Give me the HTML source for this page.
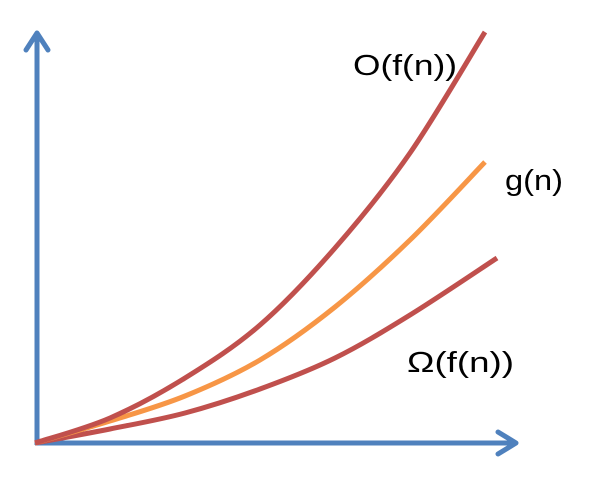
<!DOCTYPE html>
<html><head><meta charset="utf-8"><style>
html,body{margin:0;padding:0;background:#fff;}
svg{display:block;}
text{font-family:"Liberation Sans",sans-serif;font-size:29px;fill:#000;}
</style></head><body>
<svg width="589" height="484" viewBox="0 0 589 484" id="chart">
<g id="axes">
<line x1="37" y1="445" x2="37" y2="34" stroke="#4f81bd" stroke-width="5"/>
<polyline points="26,50 37,33 48,50" fill="none" stroke="#4f81bd" stroke-width="5" stroke-linecap="round" stroke-linejoin="round"/>
<line x1="35" y1="443" x2="515" y2="443" stroke="#4f81bd" stroke-width="5"/>
<polyline points="498,432 516,443 498,454" fill="none" stroke="#4f81bd" stroke-width="5" stroke-linecap="round" stroke-linejoin="round"/>
</g>
<g id="curves"></g>
<text x="353" y="75" textLength="104" lengthAdjust="spacingAndGlyphs">O(f(n))</text>
<text x="505" y="190" textLength="58" lengthAdjust="spacingAndGlyphs">g(n)</text>
<text x="407" y="372" textLength="107" lengthAdjust="spacingAndGlyphs">Ω(f(n))</text>
</svg>
<script>
const nValues = [0, 75, 150, 225, 300, 375, 450];
const bigOValues = [0, 25, 65, 118, 195, 290, 411];
const gValues = [0, 22, 47, 83, 136, 203, 281];
const omegaX = [0, 75, 150, 225, 300, 375, 462];
const omegaValues = [0, 14, 30, 54, 85, 128, 185];

function xScale(v){ return 35 + v; }
function yScale(v){ return 443 - v; }

function smoothPath(xs, ys){
  const p = xs.map((x,i)=>[xScale(x), yScale(ys[i])]);
  let d = 'M' + p[0][0] + ',' + p[0][1];
  for(let i=0;i<p.length-1;i++){
    const p0=p[Math.max(0,i-1)], p1=p[i], p2=p[i+1], p3=p[Math.min(p.length-1,i+2)];
    const c1x=p1[0]+(p2[0]-p0[0])/6, c1y=p1[1]+(p2[1]-p0[1])/6;
    const c2x=p2[0]-(p3[0]-p1[0])/6, c2y=p2[1]-(p3[1]-p1[1])/6;
    d += ' C'+c1x+','+c1y+' '+c2x+','+c2y+' '+p2[0]+','+p2[1];
  }
  return d;
}
const g = document.getElementById('curves');
function addCurve(xs, ys, color, name){
  const el = document.createElementNS('http://www.w3.org/2000/svg','path');
  el.setAttribute('d', smoothPath(xs, ys));
  el.setAttribute('fill','none');
  el.setAttribute('stroke',color);
  el.setAttribute('stroke-width','5');
  el.setAttribute('stroke-linecap','butt');
  
  
  g.appendChild(el);
}
addCurve(omegaX, omegaValues, '#c0504d', 'omega-curve');
addCurve(nValues, gValues, '#f79646', 'g-curve');
addCurve(nValues, bigOValues, '#c0504d', 'big-o-curve');
</script>
</body></html>
